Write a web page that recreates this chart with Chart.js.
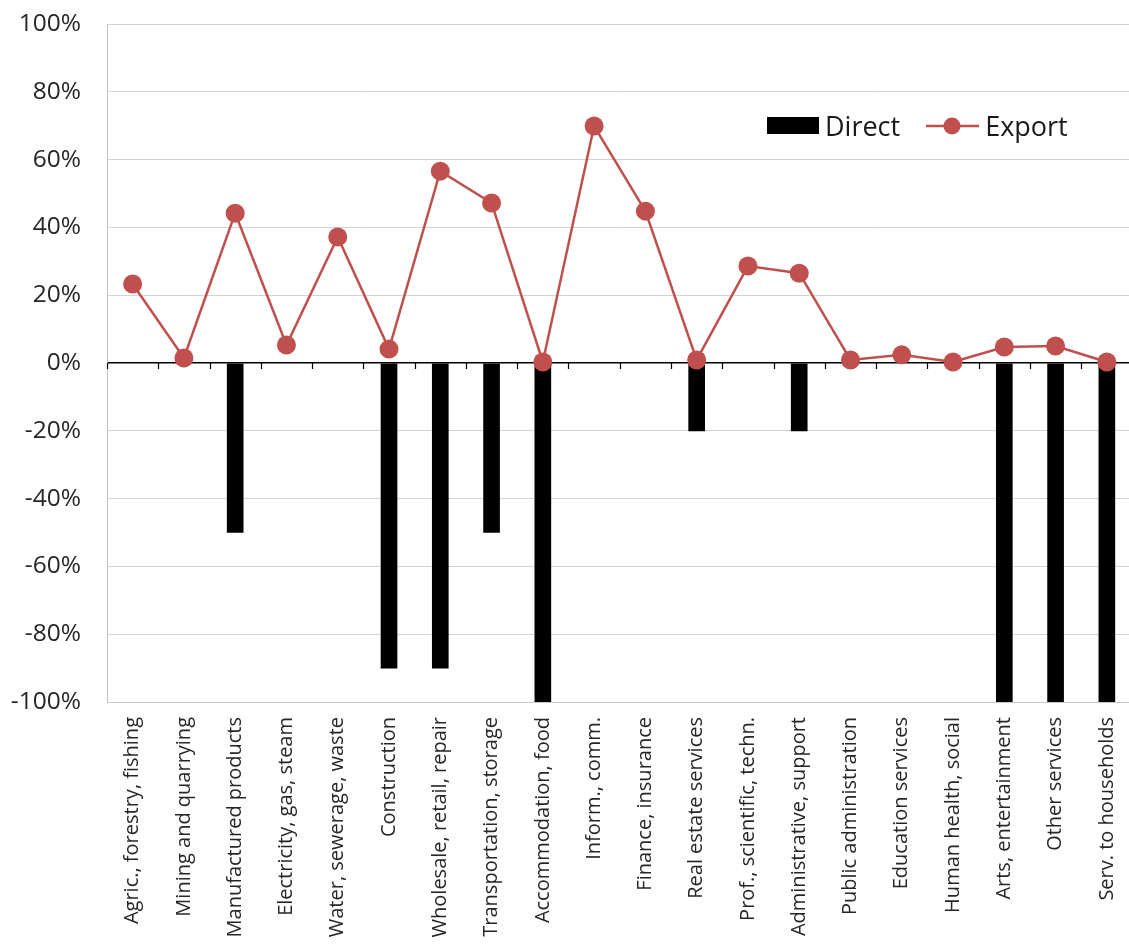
<!DOCTYPE html>
<html>
<head>
<meta charset="utf-8">
<script src="https://cdn.jsdelivr.net/npm/chart.js"></script>
<style>
    html, body { margin: 0; padding: 0; background: #fff; overflow: hidden; }
    #cadre { position: relative; width: 1142px; height: 948px; }
    #legende {
        position: absolute; left: 767px; top: 107px;
        display: flex; align-items: center;
        font-family: "Open Sans", sans-serif; font-size: 27px; color: #1a1a1a;
    }
    #legende .boite { width: 52px; height: 17px; background: #000; margin-right: 6px; }
    #legende svg { margin-left: 26px; margin-right: 6px; }
</style>
</head>
<body>
<div id="cadre">
    <canvas id="graphique" width="1142" height="948"></canvas>
    <div id="legende">
        <span class="boite"></span><span>Direct</span>
        <svg width="53" height="20"><line x1="0" y1="10" x2="53" y2="10" stroke="#c0504d" stroke-width="2.5"/><circle cx="26" cy="10" r="8.5" fill="#c0504d"/></svg>
        <span>Export</span>
    </div>
</div>
<script>
const SECTEURS = [
    'Agric., forestry, fishing', 'Mining and quarrying', 'Manufactured products',
    'Electricity, gas, steam', 'Water, sewerage, waste', 'Construction',
    'Wholesale, retail, repair', 'Transportation, storage', 'Accommodation, food',
    'Inform., comm.', 'Finance, insurance', 'Real estate services',
    'Prof., scientific, techn.', 'Administrative, support', 'Public administration',
    'Education services', 'Human health, social', 'Arts, entertainment',
    'Other services', 'Serv. to households',
];

const DIRECT = [null, null, -50, null, null, -90, -90, -50, -100, null,
                null, -20, null, -20, null, null, null, -100, -100, -100];

const EXPORT = [23.3, 1.5, 44.2, 5.3, 37.2, 4.1, 56.6, 47.2, 0.3, 69.9,
                44.8, 0.9, 28.6, 26.5, 0.9, 2.4, 0.3, 4.7, 5.0, 0.3];

const Y_MIN = -100, Y_MAX = 100, Y_PAS = 20;

const ROUGE = '#c0504d';
const POLICE = '"Open Sans", sans-serif';

// petites graduations sous la ligne du zéro, entre les catégories
const graduationsZero = {
    id: 'graduationsZero',
    beforeDatasetsDraw(chart) {
        const { ctx, scales: { x, y } } = chart;
        const y0 = y.getPixelForValue(0);
        ctx.save();
        ctx.strokeStyle = '#000';
        ctx.lineWidth = 1.2;
        ctx.beginPath();
        for (let i = 0; i <= SECTEURS.length; i++) {
            const px = Math.round(x.getPixelForValue(i - 0.5)) + 0.5;
            ctx.moveTo(px, y0);
            ctx.lineTo(px, y0 + 6);
        }
        ctx.stroke();
        ctx.restore();
    }
};

new Chart(document.getElementById('graphique'), {
    data: {
        labels: SECTEURS,
        datasets: [
            {
                type: 'line',
                label: 'Export',
                data: EXPORT,
                borderColor: ROUGE,
                backgroundColor: ROUGE,
                borderWidth: 2.5,
                pointRadius: 9.5,
                pointBackgroundColor: ROUGE,
                pointBorderColor: ROUGE,
                pointBorderWidth: 0,
                tension: 0,
                order: 0,
            },
            {
                type: 'bar',
                label: 'Direct',
                data: DIRECT,
                backgroundColor: '#000',
                barThickness: 16,
                order: 1,
            },
        ]
    },
    options: {
        responsive: false,
        animation: false,
        layout: { padding: { top: 24, right: 1, left: 0, bottom: 0 } },
        plugins: { legend: { display: false }, tooltip: { enabled: false } },
        scales: {
            x: {
                offset: true,
                grid: { display: false, drawTicks: false },
                border: { display: true, color: '#c8c8c8', width: 1 },
                ticks: {
                    autoSkip: false,
                    minRotation: 90, maxRotation: 90,
                    padding: 15,
                    color: '#262626',
                    font: { family: POLICE, size: 20 },
                },
                afterFit: s => { s.height = 246; s.paddingLeft = 0; s.paddingRight = 0; },
            },
            y: {
                min: Y_MIN, max: Y_MAX,
                grid: {
                    drawTicks: false,
                    color: c => c.tick && c.tick.value === 0 ? '#000' : '#d4d4d4',
                    lineWidth: c => c.tick && c.tick.value === 0 ? 1.5 : 1,
                },
                border: { display: true, color: '#c0c0c0', width: 1 },
                ticks: {
                    stepSize: Y_PAS,
                    padding: 26,
                    color: '#262626',
                    font: { family: POLICE, size: 24.5 },
                    callback: v => v + '%',
                },
                afterFit: s => { s.width = 107; s.paddingTop = 0; s.paddingBottom = 0; },
            },
        },
    },
    plugins: [graduationsZero],
});
</script>
</body>
</html>
